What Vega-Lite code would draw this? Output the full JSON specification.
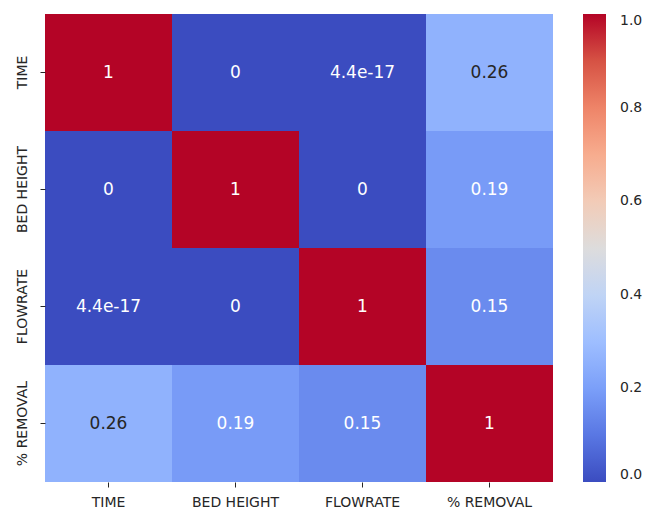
{
  "$schema": "https://vega.github.io/schema/vega-lite/v6.json",
  "autosize": "none",
  "width": 508,
  "height": 468,
  "padding": {"left": 45, "top": 14, "right": 93, "bottom": 36},
  "background": "white",
  "config": {
    "view": {"stroke": null},
    "font": "DejaVu Sans",
    "axis": {"labelFont": "DejaVu Sans", "labelFontSize": 14, "labelColor": "#262626", "tickColor": "#262626", "tickSize": 5, "domain": false, "grid": false},
    "legend": {"labelFont": "DejaVu Sans", "labelFontSize": 14, "labelColor": "#262626"}
  },
  "data": {
    "values": [
      {"row": "TIME", "col": "TIME", "v": 1, "label": "1"},
      {"row": "TIME", "col": "BED HEIGHT", "v": 0, "label": "0"},
      {"row": "TIME", "col": "FLOWRATE", "v": 4.4e-17, "label": "4.4e-17"},
      {"row": "TIME", "col": "% REMOVAL", "v": 0.26, "label": "0.26"},
      {"row": "BED HEIGHT", "col": "TIME", "v": 0, "label": "0"},
      {"row": "BED HEIGHT", "col": "BED HEIGHT", "v": 1, "label": "1"},
      {"row": "BED HEIGHT", "col": "FLOWRATE", "v": 0, "label": "0"},
      {"row": "BED HEIGHT", "col": "% REMOVAL", "v": 0.19, "label": "0.19"},
      {"row": "FLOWRATE", "col": "TIME", "v": 4.4e-17, "label": "4.4e-17"},
      {"row": "FLOWRATE", "col": "BED HEIGHT", "v": 0, "label": "0"},
      {"row": "FLOWRATE", "col": "FLOWRATE", "v": 1, "label": "1"},
      {"row": "FLOWRATE", "col": "% REMOVAL", "v": 0.15, "label": "0.15"},
      {"row": "% REMOVAL", "col": "TIME", "v": 0.26, "label": "0.26"},
      {"row": "% REMOVAL", "col": "BED HEIGHT", "v": 0.19, "label": "0.19"},
      {"row": "% REMOVAL", "col": "FLOWRATE", "v": 0.15, "label": "0.15"},
      {"row": "% REMOVAL", "col": "% REMOVAL", "v": 1, "label": "1"}
    ]
  },
  "encoding": {
    "x": {"field": "col", "type": "nominal", "sort": ["TIME", "BED HEIGHT", "FLOWRATE", "% REMOVAL"], "title": null, "axis": {"labelAngle": 0, "labelPadding": 8}, "scale": {"paddingInner": 0, "paddingOuter": 0}},
    "y": {"field": "row", "type": "nominal", "sort": ["TIME", "BED HEIGHT", "FLOWRATE", "% REMOVAL"], "title": null, "axis": {"labelAngle": -90, "labelPadding": 11}, "scale": {"paddingInner": 0, "paddingOuter": 0}}
  },
  "layer": [
    {
      "mark": {"type": "rect", "strokeWidth": 0},
      "encoding": {
        "color": {
          "field": "v", "type": "quantitative",
          "scale": {
            "domain": [0, 0.1, 0.2, 0.3, 0.4, 0.5, 0.6, 0.7, 0.8, 0.9, 1],
            "range": ["#3b4cc0", "#5977e3", "#7b9ff9", "#9ebeff", "#c0d4f5", "#dddcdc", "#f2cbb7", "#f7ac8e", "#ee8468", "#d65244", "#b40426"],
            "interpolate": "rgb"
          },
          "legend": {
            "title": null, "orient": "right", "offset": 30, "gradientLength": 468, "gradientThickness": 23,
            "values": [0, 0.2, 0.4, 0.6, 0.8, 1], "format": ".1f", "labelOffset": 14, "gradientStrokeWidth": 0, "direction": "vertical"
          }
        }
      }
    },
    {
      "mark": {"type": "text", "fontSize": 17, "font": "DejaVu Sans"},
      "encoding": {
        "text": {"field": "label"},
        "color": {"condition": {"test": "datum.v > 0.22 && datum.v < 0.75", "value": "#262626"}, "value": "#ffffff"}
      }
    }
  ]
}
